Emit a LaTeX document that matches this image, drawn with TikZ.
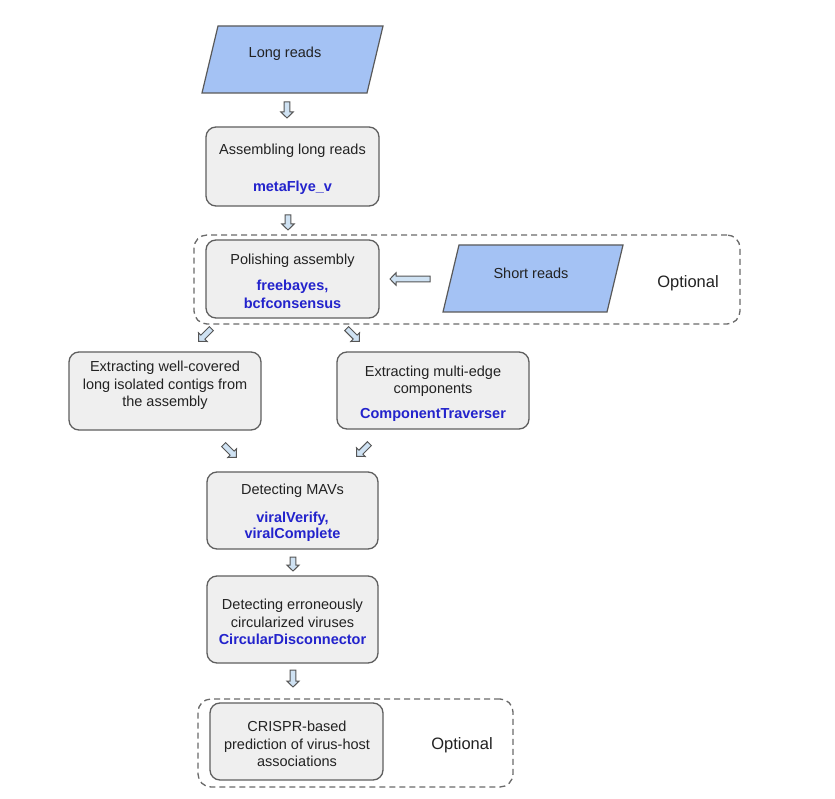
\documentclass[tikz,border=0pt]{standalone}
\usepackage{fontspec}
\setmainfont{Liberation Sans}
\usetikzlibrary{calc}
\definecolor{boxfill}{HTML}{EFEFEF}
\definecolor{boxline}{HTML}{5F5F5F}
\definecolor{parafill}{HTML}{A4C2F4}
\definecolor{paraline}{HTML}{595959}
\definecolor{toolblue}{HTML}{2323CC}
\definecolor{arrfill}{HTML}{CFE2F3}
\definecolor{arrline}{HTML}{555555}
\definecolor{txtcol}{HTML}{222222}
\definecolor{dashcol}{HTML}{6A6A6A}
\newcommand\toolname[1]{{\bfseries\color{toolblue}#1}}
\tikzset{
  procbox/.style={draw=boxline, fill=boxfill, line width=1.3pt, rounded corners=10pt, inner sep=0pt},
  optbox/.style={draw=dashcol, line width=1.3pt, dash pattern=on 6pt off 4pt, rounded corners=13pt, inner sep=0pt},
  para/.style={draw=paraline, fill=parafill, line width=1.2pt, line join=miter},
  lbl/.style={text=txtcol, font=\fontsize{14.5}{17.5}\selectfont, align=center, inner sep=0pt, yshift=-1.8pt},
  optlbl/.style={text=txtcol, font=\fontsize{16.5}{19}\selectfont, inner sep=0pt, yshift=-1.8pt},
  barrowstyle/.style={draw=arrline, fill=arrfill, line width=1pt, line join=miter},
  pics/barrow/.style={code={
    \draw[barrowstyle] ({-#1/2},-2.8) -- ({#1/2-6},-2.8) -- ({#1/2-6},-6.2) -- ({#1/2},0)
      -- ({#1/2-6},6.2) -- ({#1/2-6},2.8) -- ({-#1/2},2.8) -- cycle;}}
}
\begin{document}
\begin{tikzpicture}[x=1pt,y=-1pt]
\useasboundingbox[fill=white] (0,0) rectangle (835,799);

% optional regions
\node[optbox, minimum width=546, minimum height=89] (opt1) at (467,279.5) {};
\node[optbox, minimum width=315, minimum height=88] (opt2) at (355.5,743) {};
\node[optlbl] (opt1T) at (688,281) {Optional};
\node[optlbl] (opt2T) at (462,743) {Optional};

% inputs
\path[para] (218,26) -- (383,26) -- (367,93) -- (202,93) -- cycle;
\node[lbl] (lr) at (285,52) {Long reads};
\path[para] (459,245) -- (623,245) -- (607,312) -- (443,312) -- cycle;
\node[lbl] (sr) at (531,272) {Short reads};

% process boxes
\node[procbox, minimum width=173, minimum height=79] (asm) at (292.5,166.5) {};
\node[lbl] (asmT) at (292.5,167.5) {Assembling long reads\\[20pt]\toolname{metaFlye\_v}};

\node[procbox, minimum width=173, minimum height=78] (pol) at (292.5,279) {};
\node[lbl] (polT) at (292.5,279.5) {Polishing assembly\\[8.5pt]\toolname{freebayes,}\\\toolname{bcfconsensus}};

\node[procbox, minimum width=192, minimum height=78] (iso) at (165,391) {};
\node[lbl] (isoT) at (165,383.5) {Extracting well-covered\\long isolated contigs from\\the assembly};

\node[procbox, minimum width=192, minimum height=77] (comp) at (433,390.5) {};
\node[lbl] (compT) at (433,392) {Extracting multi-edge\\components\\[7.5pt]\toolname{ComponentTraverser}};

\node[procbox, minimum width=171, minimum height=77] (mav) at (292.5,510.5) {};
\node[lbl] (mavT) at (292.5,511) {Detecting MAVs\\[10.5pt]\toolname{viralVerify,}\\[-1.5pt]\toolname{viralComplete}};

\node[procbox, minimum width=171, minimum height=87] (circ) at (292.5,619.5) {};
\node[lbl] (circT) at (292.5,620.5) {Detecting erroneously\\circularized viruses\\\toolname{CircularDisconnector}};

\node[procbox, minimum width=173, minimum height=77] (crispr) at (296.5,741.5) {};
\node[lbl] (crisprT) at (297,742.5) {CRISPR-based\\prediction of virus-host\\associations};

% block arrows
\pic[rotate=-90] (a1) at (287,110) {barrow=16};
\pic[rotate=-90] (a2) at (288,222.5) {barrow=15};
\pic[rotate=180] (a3) at (410,279) {barrow=40};
\pic[rotate=-135] (a4) at (205,335) {barrow=18};
\pic[rotate=-45] (a5) at (353,335) {barrow=18};
\pic[rotate=-45] (a6) at (230,451) {barrow=18};
\pic[rotate=-135] (a7) at (363,450) {barrow=18};
\pic[rotate=-90] (a8) at (293,564) {barrow=14};
\pic[rotate=-90] (a9) at (293,678.5) {barrow=17};
\end{tikzpicture}
\end{document}
